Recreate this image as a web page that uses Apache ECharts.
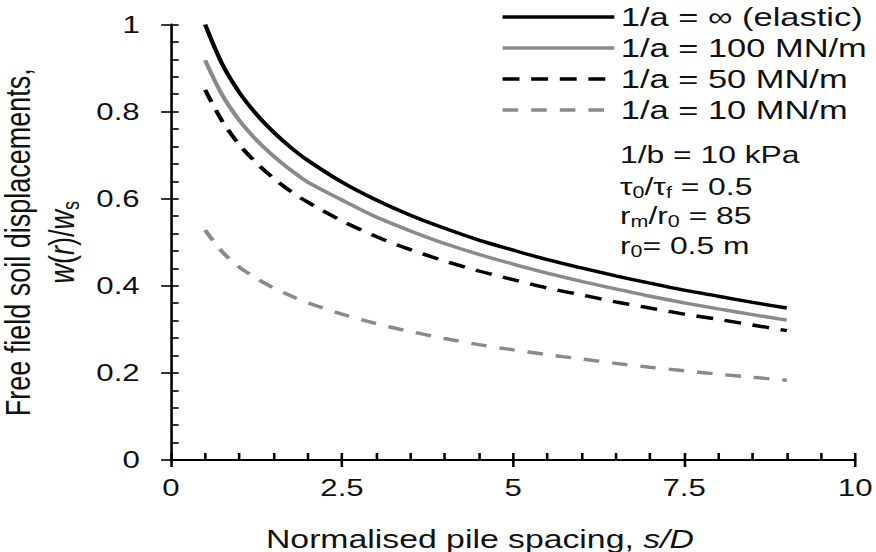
<!DOCTYPE html>
<html>
<head>
<meta charset="utf-8">
<script src="https://cdn.jsdelivr.net/npm/echarts@6/dist/echarts.min.js"></script>
<style>
  html, body { margin: 0; padding: 0; background: #fff; overflow: hidden; }
  #c { width: 674px; height: 552px; transform: scaleX(1.2997); transform-origin: 0 0; }
</style>
</head>
<body>
<div id="c"></div>
<script>
// ---- data ----
const spacing = [0.5, 0.75, 1, 1.25, 1.5, 1.75, 2, 2.5, 3, 3.5, 4, 4.5, 5, 5.5, 6, 6.5, 7, 7.5, 8, 8.5, 9];
const elastic = [1.0, 0.909, 0.844, 0.794, 0.753, 0.718, 0.688, 0.638, 0.597, 0.562, 0.532, 0.505, 0.482, 0.460, 0.441, 0.423, 0.406, 0.390, 0.376, 0.362, 0.349];
const a100   = [0.918, 0.838, 0.780, 0.735, 0.698, 0.666, 0.638, 0.597, 0.558, 0.526, 0.497, 0.472, 0.450, 0.429, 0.410, 0.393, 0.376, 0.361, 0.347, 0.334, 0.321];
const a50    = [0.850, 0.778, 0.724, 0.682, 0.647, 0.617, 0.592, 0.549, 0.513, 0.483, 0.457, 0.434, 0.414, 0.395, 0.379, 0.363, 0.349, 0.335, 0.323, 0.310, 0.297];
const a10    = [0.528, 0.478, 0.443, 0.417, 0.395, 0.377, 0.361, 0.335, 0.313, 0.295, 0.279, 0.265, 0.253, 0.242, 0.232, 0.222, 0.213, 0.205, 0.197, 0.190, 0.183];
const seriesNames = ['1/a = \u221E (elastic)', '1/a = 100 MN/m', '1/a = 50 MN/m', '1/a = 10 MN/m'];
const xAxisTitle = 'Normalised pile spacing, ';
const xAxisTitleItalic = 's/D';
const yAxisTitle1 = 'Free field soil displacements,';
const paramLines = [
  '{n|1/b = 10 kPa}',
  '{n|\u03C4}{s|0}{n|/\u03C4}{s|f}{n| = 0.5}',
  '{n|r}{s|m}{n|/r}{s|0}{n| = 85}',
  '{n|r}{s|0}{n|= 0.5 m}'
];

const FONT = '"Liberation Sans", Arial, sans-serif';
const BLACK = '#000000';
const GREY = '#8a8a8a';

function pairs(vals) { return spacing.map((x, i) => [x, vals[i]]); }

const chart = echarts.init(document.getElementById('c'), null, { renderer: 'svg' });

const commonX = { type: 'value', min: 0, max: 10, interval: 2.5, splitLine: { show: false } };
const commonY = { type: 'value', min: 0, max: 1, interval: 0.2, splitLine: { show: false } };

const textRich = {
  n: { fontFamily: FONT, fontSize: 24.5, color: '#111', lineHeight: 30 },
  s: { fontFamily: FONT, fontSize: 16.5, color: '#111', lineHeight: 30, padding: [12, 0, 0, 0] }
};

const option = {
  animation: false,
  backgroundColor: '#ffffff',
  grid: { left: 131.5, right: 16, top: 24.5, bottom: 92, containLabel: false, outerBoundsMode: 'none' },
  xAxis: [
    Object.assign({}, commonX, {
      position: 'bottom',
      name: '{n|' + xAxisTitle + '}{i|' + xAxisTitleItalic + '}',
      nameLocation: 'middle',
      nameGap: 66,
      nameTextStyle: {
        padding: [0, 51, 0, 0],
        rich: {
          n: { fontFamily: FONT, fontSize: 26, color: '#111' },
          i: { fontFamily: FONT, fontSize: 26, color: '#111', fontStyle: 'italic' }
        }
      },
      axisLine: { show: true, onZero: false, lineStyle: { color: BLACK, width: 2 } },
      axisTick: { show: true, inside: true, length: 7, lineStyle: { color: BLACK, width: 2 } },
      minorTick: { show: true, splitNumber: 5, length: 7, lineStyle: { color: BLACK, width: 2 } },
      axisLabel: { margin: 16, fontFamily: FONT, fontSize: 24, color: '#111' }
    }),
    Object.assign({}, commonX, {
      position: 'bottom',
      offset: 0,
      axisLine: { show: false, onZero: false },
      axisTick: { show: true, inside: false, length: 7, lineStyle: { color: BLACK, width: 2 } },
      minorTick: { show: false },
      axisLabel: { show: false }
    })
  ],
  yAxis: [
    Object.assign({}, commonY, {
      position: 'left',
      name: '{n|' + yAxisTitle1 + '}\n{i|w}{n|(}{i|r}{n|)/}{i|w}{s|s}',
      nameLocation: 'middle',
      nameRotate: 90,
      nameGap: 57.5,
      nameTextStyle: {
        align: 'center',
        rich: {
          n: { fontFamily: FONT, fontSize: 27, color: '#111', lineHeight: 34.5 },
          i: { fontFamily: FONT, fontSize: 27, color: '#111', lineHeight: 34.5, fontStyle: 'italic' },
          s: { fontFamily: FONT, fontSize: 18, color: '#111', lineHeight: 34.5, padding: [12, 0, 0, 0] }
        }
      },
      axisLine: { show: true, onZero: false, lineStyle: { color: BLACK, width: 2 } },
      axisTick: { show: true, inside: true, length: 6, lineStyle: { color: BLACK, width: 1.6 } },
      minorTick: { show: true, splitNumber: 5, length: 6, lineStyle: { color: BLACK, width: 1.6 } },
      axisLabel: { margin: 24, fontFamily: FONT, fontSize: 24, color: '#111' }
    }),
    Object.assign({}, commonY, {
      position: 'left',
      offset: 0,
      axisLine: { show: false, onZero: false },
      axisTick: { show: true, inside: false, length: 7.5, lineStyle: { color: BLACK, width: 1.6 } },
      minorTick: { show: false },
      axisLabel: { show: false }
    })
  ],
  legend: {
    show: true,
    orient: 'vertical',
    left: 380,
    top: -1.5,
    itemWidth: 86,
    itemHeight: 14,
    itemGap: 4,
    data: seriesNames,
    itemStyle: { opacity: 0 },
    lineStyle: { width: 3.4 },
    textStyle: { fontFamily: FONT, fontSize: 26.5, color: '#111', lineHeight: 27 }
  },
  graphic: paramLines.map((t, i) => ({
    type: 'text',
    left: 477,
    top: [142, 171.5, 201, 231][i],
    silent: true,
    style: { text: t, rich: textRich, fill: '#111' }
  })),
  series: [
    { name: seriesNames[0], data: pairs(elastic), color: BLACK, lineStyle: { color: BLACK, width: 3.4, type: 'solid' } },
    { name: seriesNames[1], data: pairs(a100), color: GREY, lineStyle: { color: GREY, width: 3.4, type: 'solid' } },
    { name: seriesNames[2], data: pairs(a50), color: BLACK, lineStyle: { color: BLACK, width: 3.4, type: [13, 9] } },
    { name: seriesNames[3], data: pairs(a10), color: GREY, lineStyle: { color: GREY, width: 3.4, type: [12, 10] } }
  ].map(s => Object.assign({
    type: 'line', xAxisIndex: 0, yAxisIndex: 0, showSymbol: false, symbol: 'none',
    smooth: 0.3, clip: false
  }, s))
};

chart.setOption(option);
</script>
</body>
</html>
